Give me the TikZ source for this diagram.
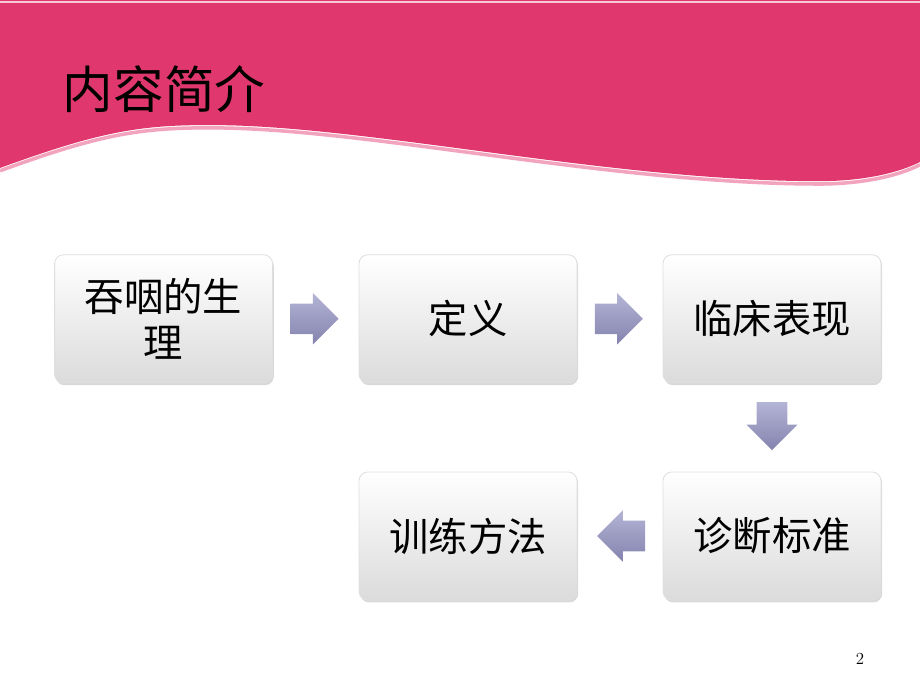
\documentclass[tikz,border=0pt]{standalone}
\usepackage{fontspec}
\newfontfamily\cjk{Noto Sans CJK SC}
\usetikzlibrary{calc,shapes.arrows,shadows}

\definecolor{bandpink}{HTML}{E0386E}
\definecolor{edgepink}{HTML}{F2A3BE}
\definecolor{arrowtop}{HTML}{B4B4D6}
\definecolor{arrowbot}{HTML}{8383AE}

\begin{document}
\begin{tikzpicture}[font=\cjk]
    \tikzset{
      stagebox/.style={rectangle, rounded corners=0.22cm, draw=gray!25, line width=0.6pt,
        top color=white, bottom color=gray!28, minimum width=5.45cm, minimum height=3.2cm,
        text width=5.2cm, align=center, font=\cjk\fontsize{28}{33}\selectfont,
        drop shadow={opacity=0.3, shadow xshift=0.03cm, shadow yshift=-0.06cm}},
      flowarrow/.style={single arrow, draw=none, top color=arrowtop, bottom color=arrowbot,
        minimum height=1.2cm, inner xsep=0pt, inner ysep=0.375cm,
        single arrow head extend=0.26cm},
      downarrow/.style={flowarrow, shape border rotate=270, inner xsep=0.375cm, inner ysep=0pt}
    }
    \useasboundingbox (0,0) rectangle (23,17.25);

    % header band
    \fill[bandpink] (0,17.25) -- (0,13.05) .. controls (2.6,14.0) and (3.6,14.15) .. (5.6,14.12)
        .. controls (9.5,14.05) and (15.5,12.7) .. (20.6,12.72)
        .. controls (21.7,12.74) and (22.5,12.95) .. (23,13.2) -- (23,17.25) -- cycle;
    \draw[edgepink, line width=2.5pt] (0,12.98) .. controls (2.6,13.93) and (3.6,14.08) .. (5.6,14.05)
        .. controls (9.5,13.98) and (15.5,12.63) .. (20.6,12.65)
        .. controls (21.7,12.67) and (22.5,12.88) .. (23,13.13);
    \draw[edgepink!60, line width=0.8pt] (0,17.2) -- (23,17.2);
    \node[font=\cjk\fontsize{36}{40}\selectfont, anchor=west] (title) at (1.45,15.03) {内容简介};

    \node[stagebox] (physio) at (4.09,9.28) {吞咽的生\\理};
    \node[stagebox] (defin) at (11.70,9.28) {定义};
    \node[stagebox] (clinic) at (19.30,9.28) {临床表现};
    \node[stagebox] (diagn) at (19.30,3.85) {诊断标准};
    \node[stagebox] (train) at (11.70,3.85) {训练方法};

    \node[flowarrow, xshift=-0.22cm] (a1) at ($(physio.east)!0.5!(defin.west)$) {};
    \node[flowarrow, xshift=-0.22cm] (a2) at ($(defin.east)!0.5!(clinic.west)$) {};
    \node[downarrow, yshift=0.22cm] (a3) at ($(clinic.south)!0.5!(diagn.north)$) {};
    \node[flowarrow, shape border rotate=180, xshift=0.22cm] (a4) at ($(diagn.west)!0.5!(train.east)$) {};

    \node[font=\fontsize{12}{14}\selectfont] (pageno) at (21.5,0.78) {2};
\end{tikzpicture}
\end{document}
